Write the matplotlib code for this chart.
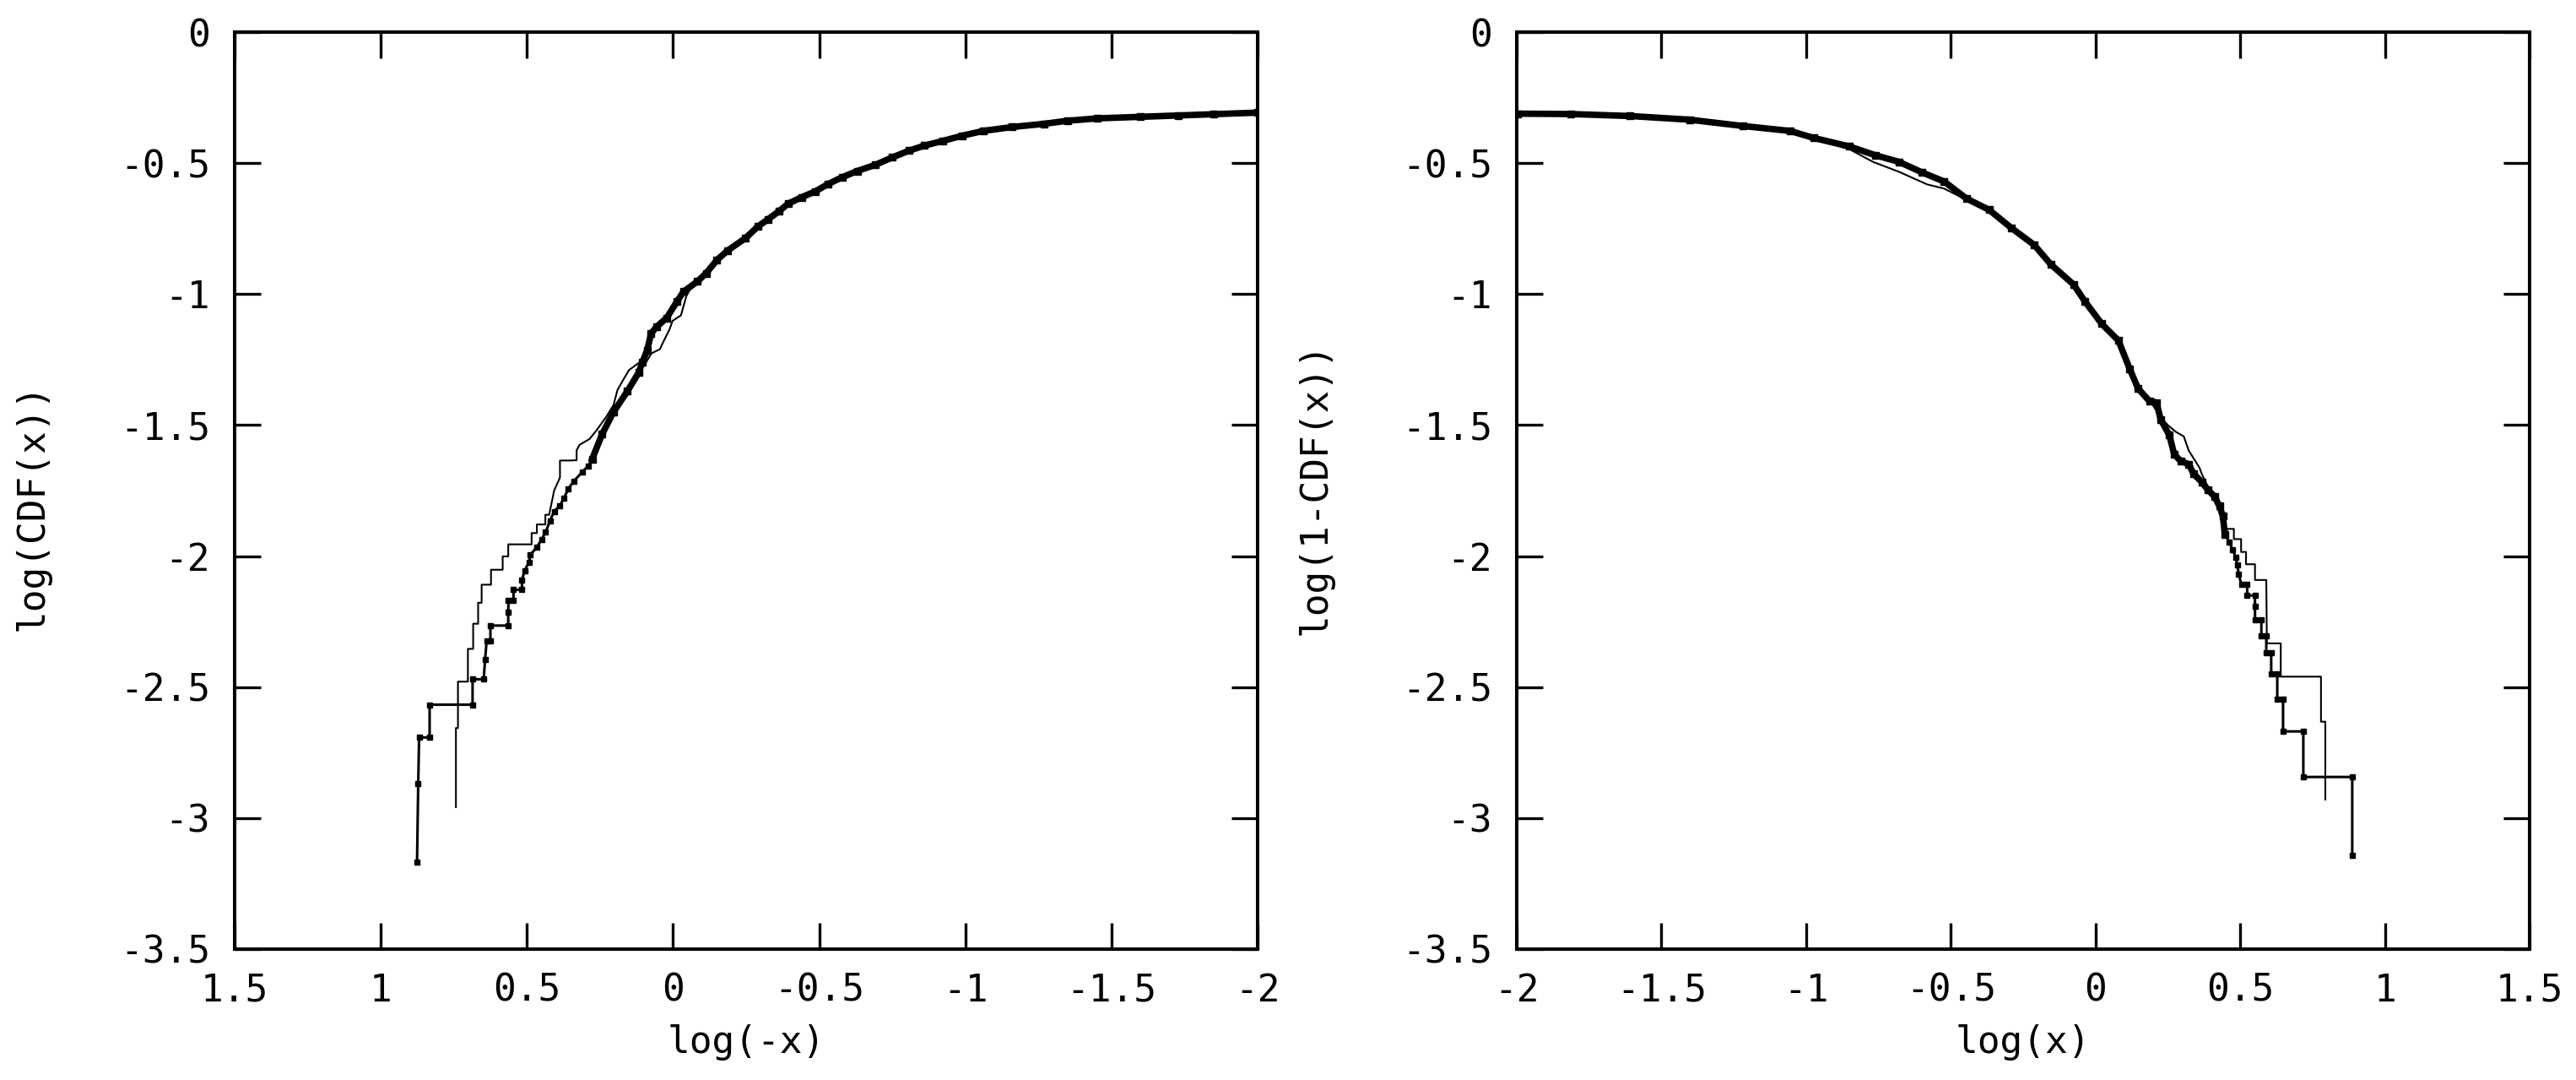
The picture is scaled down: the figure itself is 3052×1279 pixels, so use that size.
#!/usr/bin/env python3

import matplotlib
matplotlib.use("Agg")
import matplotlib.pyplot as plt
from matplotlib.ticker import FixedLocator, FuncFormatter

# left panel: log(CDF) vs log(-x), marked curve (dense body + step tail)
left_body_x = [-2.0, -1.85, -1.728, -1.6, -1.452, -1.35, -1.268, -1.16, -1.061, -0.99,
               -0.923, -0.86, -0.808, -0.75, -0.693, -0.63, -0.578, -0.53, -0.486, -0.44,
               -0.393, -0.363, -0.324, -0.29, -0.248, -0.186, -0.15, -0.113, -0.083, -0.036,
               -0.014, 0.022, 0.056, 0.075, 0.089, 0.105, 0.118, 0.156, 0.204, 0.243, 0.277]
left_body_y = [-0.307, -0.313, -0.318, -0.323, -0.329, -0.338, -0.35, -0.362, -0.377, -0.395,
               -0.415, -0.433, -0.452, -0.478, -0.506, -0.53, -0.554, -0.58, -0.608, -0.63,
               -0.655, -0.683, -0.715, -0.742, -0.786, -0.834, -0.87, -0.92, -0.952, -0.99,
               -1.027, -1.091, -1.124, -1.15, -1.215, -1.26, -1.3, -1.37, -1.45, -1.535, -1.63]
left_tail_x = [0.277, 0.291, 0.31, 0.339, 0.358, 0.373, 0.387, 0.407, 0.421, 0.436,
               0.45, 0.466, 0.488, 0.493, 0.508, 0.517, 0.517, 0.546, 0.546, 0.563,
               0.564, 0.564, 0.625, 0.625, 0.638, 0.643, 0.648, 0.686, 0.686, 0.833,
               0.833, 0.869, 0.872, 0.876]
left_tail_y = [-1.63, -1.656, -1.678, -1.713, -1.742, -1.778, -1.807, -1.829, -1.865, -1.908,
               -1.936, -1.966, -1.994, -2.023, -2.056, -2.091, -2.128, -2.128, -2.168, -2.168,
               -2.214, -2.265, -2.265, -2.325, -2.325, -2.393, -2.47, -2.47, -2.567, -2.567,
               -2.692, -2.692, -2.869, -3.168]
# left panel thin curve
left_thin_x = [-2.0, -1.7, -1.45, -1.25, -1.06, -0.92, -0.8, -0.69, -0.58, -0.48,
               -0.39, -0.32, -0.25, -0.18, -0.11, -0.07, -0.046, -0.027, 0.002, 0.012,
               0.036, 0.045, 0.074, 0.094, 0.118, 0.151, 0.171, 0.19, 0.204, 0.228,
               0.262, 0.286, 0.32, 0.33, 0.33, 0.354, 0.387, 0.387, 0.407, 0.424,
               0.437, 0.437, 0.466, 0.466, 0.484, 0.484, 0.564, 0.564, 0.583, 0.583,
               0.623, 0.623, 0.655, 0.655, 0.667, 0.667, 0.684, 0.684, 0.702, 0.702,
               0.736, 0.736, 0.743, 0.743]
left_thin_y = [-0.312, -0.322, -0.333, -0.352, -0.38, -0.418, -0.455, -0.508, -0.556, -0.612,
               -0.658, -0.718, -0.772, -0.838, -0.915, -0.96, -1.005, -1.081, -1.102, -1.134,
               -1.188, -1.21, -1.226, -1.263, -1.263, -1.29, -1.328, -1.365, -1.424, -1.467,
               -1.52, -1.553, -1.575, -1.596, -1.634, -1.635, -1.635, -1.7, -1.75, -1.842,
               -1.842, -1.879, -1.879, -1.912, -1.912, -1.955, -1.955, -2.001, -2.001, -2.052,
               -2.052, -2.109, -2.109, -2.178, -2.178, -2.258, -2.258, -2.354, -2.354, -2.479,
               -2.479, -2.656, -2.656, -2.958]

# right panel: log(1-CDF) vs log(x)
right_body_x = [-1.996, -1.812, -1.608, -1.403, -1.219, -1.055, -0.973, -0.851, -0.76, -0.679,
                -0.6, -0.523, -0.446, -0.368, -0.29, -0.212, -0.154, -0.076, -0.037, 0.021,
                0.079, 0.118, 0.147, 0.186, 0.211, 0.225, 0.255, 0.272, 0.294, 0.322,
                0.339, 0.367, 0.389, 0.411, 0.428, 0.44, 0.447]
right_body_y = [-0.311, -0.3125, -0.32, -0.334, -0.358, -0.377, -0.404, -0.436, -0.47, -0.495,
                -0.535, -0.57, -0.635, -0.678, -0.748, -0.812, -0.887, -0.963, -1.027, -1.113,
                -1.177, -1.285, -1.36, -1.408, -1.414, -1.478, -1.538, -1.612, -1.637, -1.649,
                -1.686, -1.717, -1.748, -1.772, -1.809, -1.847, -1.918]
right_tail_x = [0.447, 0.462, 0.473, 0.484, 0.49, 0.495, 0.504, 0.524, 0.524, 0.551,
                0.551, 0.551, 0.573, 0.573, 0.59, 0.59, 0.607, 0.607, 0.628, 0.628,
                0.648, 0.648, 0.718, 0.718, 0.887, 0.887]
right_tail_y = [-1.918, -1.945, -1.974, -2.003, -2.035, -2.069, -2.109, -2.109, -2.15, -2.15,
                -2.193, -2.244, -2.244, -2.303, -2.303, -2.369, -2.369, -2.448, -2.448, -2.546,
                -2.546, -2.669, -2.669, -2.843, -2.843, -3.141]
right_thin_x = [-2.0, -1.8, -1.6, -1.4, -1.2, -1.05, -0.95, -0.85, -0.769, -0.679,
                -0.582, -0.523, -0.446, -0.368, -0.29, -0.212, -0.154, -0.076, -0.037, 0.021,
                0.079, 0.118, 0.147, 0.17, 0.19, 0.225, 0.25, 0.278, 0.305, 0.322,
                0.359, 0.367, 0.39, 0.42, 0.44, 0.448, 0.478, 0.478, 0.503, 0.503,
                0.52, 0.52, 0.551, 0.551, 0.59, 0.592, 0.64, 0.64, 0.779, 0.779,
                0.794, 0.794]
right_thin_y = [-0.315, -0.318, -0.325, -0.339, -0.362, -0.385, -0.415, -0.447, -0.495, -0.533,
                -0.581, -0.597, -0.64, -0.683, -0.752, -0.815, -0.889, -0.965, -1.03, -1.115,
                -1.18, -1.287, -1.362, -1.38, -1.41, -1.47, -1.5, -1.526, -1.543, -1.597,
                -1.662, -1.686, -1.74, -1.8, -1.85, -1.896, -1.896, -1.935, -1.935, -1.984,
                -1.984, -2.031, -2.031, -2.091, -2.091, -2.333, -2.333, -2.46, -2.46, -2.632,
                -2.632, -2.929]

x_ticks = [-2, -1.5, -1, -0.5, 0, 0.5, 1, 1.5]
y_ticks = [-3.5, -3, -2.5, -2, -1.5, -1, -0.5, 0]

plt.rcParams['font.family'] = ['DejaVu Sans Mono']
plt.rcParams['axes.unicode_minus'] = False

fig = plt.figure(figsize=(30.52, 12.79), dpi=100)
ax_l = fig.add_axes([0.0911, 0.1212, 0.3971, 0.849])
ax_r = fig.add_axes([0.5888, 0.1212, 0.3932, 0.849])

fmt = FuncFormatter(lambda v, p: '%g' % v)


def style(ax):
    for s in ax.spines.values():
        s.set_linewidth(2.9)
    ax.xaxis.set_major_locator(FixedLocator(x_ticks))
    ax.yaxis.set_major_locator(FixedLocator(y_ticks))
    ax.xaxis.set_major_formatter(fmt)
    ax.yaxis.set_major_formatter(fmt)
    ax.tick_params(direction='in', length=22, width=2.4, top=True, right=True,
                   labelsize=32)
    ax.tick_params(axis='y', pad=21)
    ax.tick_params(axis='x', pad=20)
    ax.set_ylim(-3.5, 0)


def draw(ax, bx, by, tx, ty, nx, ny):
    ax.plot(nx, ny, color='black', lw=1.5)
    ax.plot(bx, by, color='black', lw=5.5, marker='s', ms=6, solid_joinstyle='miter')
    ax.plot(tx, ty, color='black', lw=2.2, marker='s', ms=4.5)


draw(ax_l, left_body_x, left_body_y, left_tail_x, left_tail_y, left_thin_x, left_thin_y)
style(ax_l)
ax_l.set_xlim(1.5, -2)
ax_l.set_xlabel('log(-x)', fontsize=32)
ax_l.set_ylabel('log(CDF(x))', fontsize=32)
ax_l.xaxis.set_label_coords(0.5, -0.102)
ax_l.yaxis.set_label_coords(-0.198, 0.4825)

draw(ax_r, right_body_x, right_body_y, right_tail_x, right_tail_y, right_thin_x, right_thin_y)
style(ax_r)
ax_r.set_xlim(-2, 1.5)
ax_r.set_xlabel('log(x)', fontsize=32)
ax_r.set_ylabel('log(1-CDF(x))', fontsize=32)
ax_r.xaxis.set_label_coords(0.5, -0.102)
ax_r.yaxis.set_label_coords(-0.199, 0.503)

for ax in (ax_l, ax_r):
    ax.xaxis.label.set_va('center')
    ax.yaxis.label.set_va('center')

fig.savefig('out.png', dpi=100)
